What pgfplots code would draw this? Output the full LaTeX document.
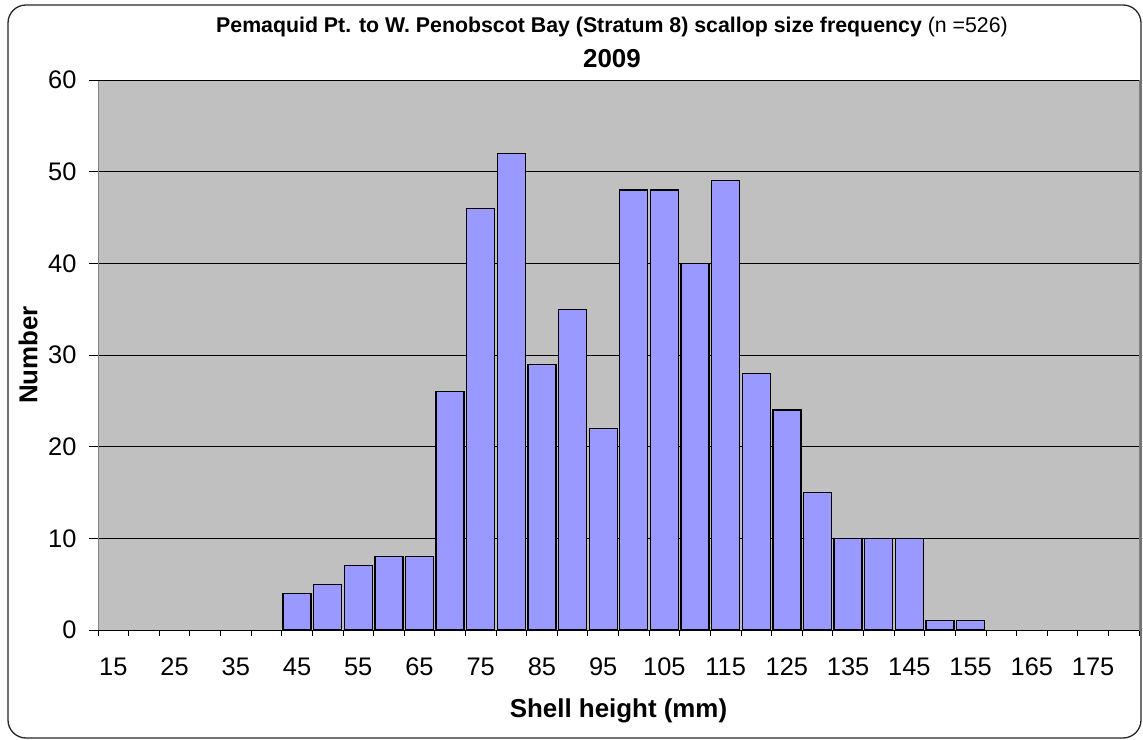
\documentclass[border=0pt]{standalone}
\usepackage{pgfplots}
\pgfplotsset{compat=1.18}
\usepackage{fontspec}
\setmainfont{Liberation Sans}
\definecolor{plotgray}{HTML}{C0C0C0}
\definecolor{barblue}{HTML}{9999FF}
\definecolor{axgray}{HTML}{808080}
\begin{document}
\begin{tikzpicture}
\useasboundingbox (-98bp,-110bp) rectangle (1045bp,630bp);
\draw[line width=1.3bp, rounded corners=18bp, black!85] (-90bp,-108bp) rectangle (1043bp,625bp);
\begin{axis}[
  at={(0bp,0bp)}, anchor=south west,
  scale only axis, width=1041bp, height=550bp,
  xmin=12.5, xmax=182.5, ymin=0, ymax=60,
  xtick={15,25,...,175},
  minor xtick={12.5,17.5,...,182.5},
  ytick={0,10,...,60},
  xtick pos=bottom, ytick pos=left,
  tick align=outside,
  major tick length=9bp, minor tick length=6bp,
  major x tick style={draw=none},
  minor x tick style={black, line width=0.8bp},
  major y tick style={black, line width=0.8bp},
  ymajorgrids, major y grid style={black, line width=0.8bp},
  axis background/.style={fill=plotgray},
  axis line style={draw=axgray, line width=0.8bp},
  ybar, bar width=28bp,
  /pgf/number format/assume math mode=true,
  ticklabel style={font=\fontsize{25.5}{29}\selectfont},
  xticklabel style={anchor=base, yshift=-36bp},
  yticklabel style={anchor=east, xshift=-9bp},
  xlabel={Shell height (mm)},
  xlabel style={at={(axis description cs:0.5,0)}, anchor=center, yshift=-81bp, font=\bfseries\fontsize{26}{30}\selectfont},
  ylabel={Number},
  ylabel style={at={(axis description cs:-0.0672,0.5)}, anchor=center, font=\bfseries\fontsize{26}{30}\selectfont},
]
\addplot[fill=barblue, draw=black, line width=1.3bp] table {
x y
45 4
50 5
55 7
60 8
65 8
70 26
75 46
80 52
85 29
90 35
95 22
100 48
105 48
110 40
115 49
120 28
125 24
130 15
135 10
140 10
145 10
150 1
155 1
};
\draw[black, line width=1bp] (rel axis cs:0,0) -- (rel axis cs:1,0);
\draw[black, line width=0.8bp] (rel axis cs:0,1) -- (rel axis cs:1,1);
\end{axis}
\node[anchor=base, font=\bfseries\fontsize{21.4}{24}\selectfont] at (514bp,597bp) {Pemaquid Pt. to W. Penobscot Bay (Stratum 8) scallop size frequency \mdseries(n =526)};
\node[anchor=base, font=\bfseries\fontsize{26}{29}\selectfont] at (514bp,562bp) {2009};
\end{tikzpicture}
\end{document}
